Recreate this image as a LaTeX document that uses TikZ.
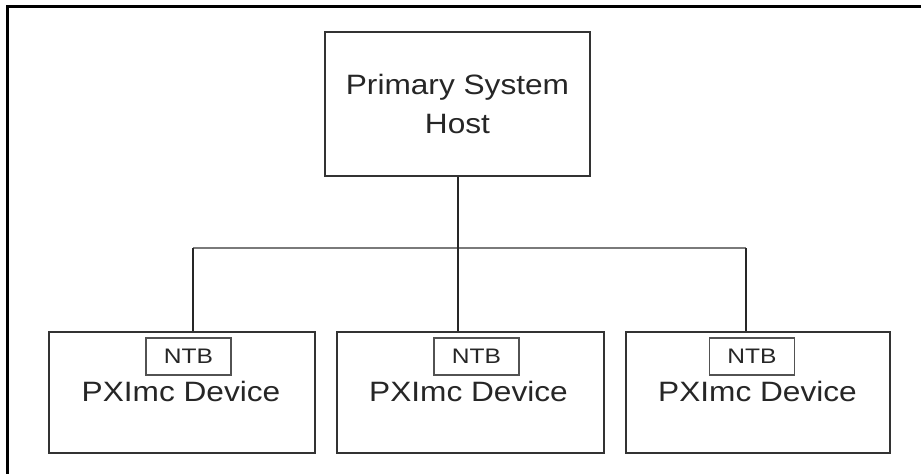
\documentclass[tikz,border=0pt]{standalone}
\usepackage{fontspec}
\newfontfamily\diagfont[FakeStretch=1.13]{Liberation Sans}
\newfontfamily\ntbfont[FakeStretch=1.17]{Liberation Sans}
\definecolor{boxline}{HTML}{333333}
\definecolor{txt}{HTML}{262626}
\definecolor{busline}{HTML}{7A7A7A}
\begin{document}
\begin{tikzpicture}[x=0.75pt,y=-0.75pt,
  hostbox/.style={draw=boxline,line width=2.1pt,inner sep=0pt,minimum width=198.75pt,minimum height=108pt,
    font=\diagfont\fontsize{21pt}{29.25pt}\selectfont,text=txt,align=center},
  devbox/.style={draw=boxline,line width=2.1pt,inner sep=0pt,minimum height=90.75pt},
  ntbbox/.style={draw=boxline!85,line width=1.4pt,inner sep=0pt,minimum width=63.75pt,minimum height=27.75pt,
    font=\ntbfont\fontsize{15.75pt}{18pt}\selectfont,text=txt},
  devlabel/.style={anchor=base,inner sep=0pt,font=\diagfont\fontsize{21pt}{25pt}\selectfont,text=txt},
  link/.style={draw=black!85,line width=1.6pt},
  bus/.style={draw=busline,line width=1.9pt},
  frameline/.style={draw=black,line width=2.2pt}]
\useasboundingbox (0,0) rectangle (921,474);
% frame (top and left edges visible)
\coordinate (f1) at (7.5,474);
\coordinate (f2) at (7.5,6.5);
\coordinate (f3) at (921,6.5);
\draw[frameline] (f1) -- (f2) -- (f3);
% host
\node[hostbox] (host) at (457.5,104) {Primary System\\[-0.5pt]Host};
% devices
\node[devbox,minimum width=199.5pt] (dev1) at (182,392.5) {};
\node[devbox,minimum width=200.25pt] (dev2) at (470.5,392.5) {};
\node[devbox,minimum width=198pt] (dev3) at (758,392.5) {};
\node[ntbbox] (ntb1) at (188.5,356.5) {NTB};
\node[ntbbox] (ntb2) at (476.5,356.5) {NTB};
\node[ntbbox] (ntb3) at (752,356.5) {NTB};
\node[devlabel] (lab1) at (181,401) {PXImc Device};
\node[devlabel] (lab2) at (468.5,401) {PXImc Device};
\node[devlabel] (lab3) at (757.5,401) {PXImc Device};
% connectors
\coordinate (j1) at (193,248);
\coordinate (j2) at (458,248);
\coordinate (j3) at (746,248);
\draw[bus] (j1) -- (j3);
\draw[link] (host.south -| j2) -- (j2) -- (dev2.north -| j2);
\draw[link] (j1) -- (dev1.north -| j1);
\draw[link] (j3) -- (dev3.north -| j3);
\end{tikzpicture}
\end{document}
